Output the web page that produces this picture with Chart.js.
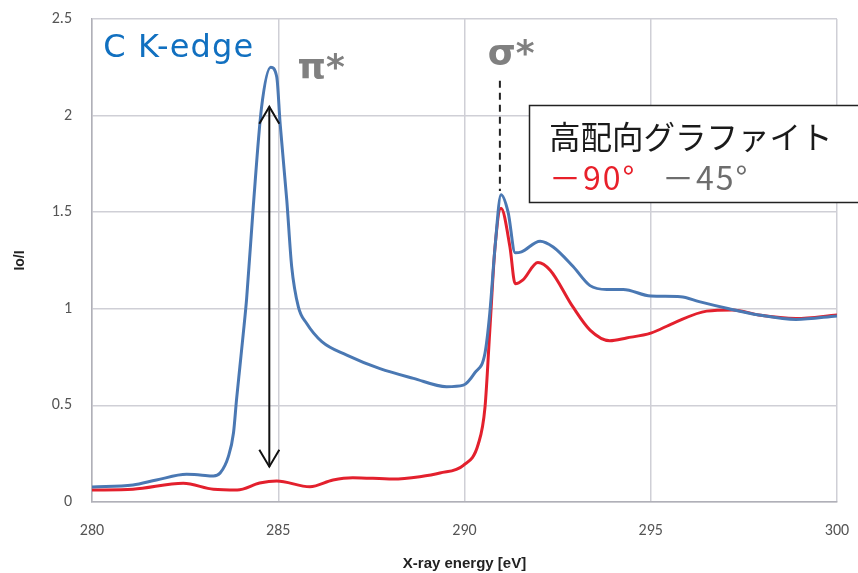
<!DOCTYPE html>
<html><head><meta charset="utf-8">
<script src="https://cdn.jsdelivr.net/npm/chart.js@4/dist/chart.umd.min.js"></script>
<style>html,body{margin:0;padding:0;background:#fff}#wrap{width:858px;height:573px}</style>
</head><body><div id="wrap"><canvas id="c" width="858" height="573"></canvas></div>
<script>
const xTicks = [280, 285, 290, 295, 300];
const yTicks = [0, 0.5, 1, 1.5, 2, 2.5];

const energy45 = [280, 281.1, 281.73, 282.54, 282.9, 283.26, 283.44, 283.66, 283.8, 283.88, 283.97, 284.06, 284.15, 284.33, 284.55, 284.8, 284.96, 285.05, 285.23, 285.36, 285.54, 285.76, 286.17, 286.84, 287.73, 288.63, 289.52, 289.97, 290.28, 290.55, 290.68, 290.82, 290.98, 291.17, 291.36, 291.53, 292.03, 292.38, 292.91, 293.37, 293.82, 294.26, 295.0, 295.8, 296.3, 297.1, 297.9, 298.9, 300];
const io45 = [0.078, 0.088, 0.114, 0.143, 0.14, 0.135, 0.15, 0.235, 0.36, 0.53, 0.70, 0.87, 1.05, 1.53, 2.04, 2.25, 2.2, 1.96, 1.56, 1.22, 1.01, 0.925, 0.83, 0.76, 0.69, 0.64, 0.597, 0.605, 0.67, 0.77, 0.98, 1.32, 1.59, 1.50, 1.29, 1.295, 1.35, 1.32, 1.22, 1.12, 1.10, 1.10, 1.066, 1.063, 1.037, 1.0, 0.968, 0.945, 0.963];

const energy90 = [280, 281.1, 282.45, 283.26, 283.9, 284.5, 284.96, 285.85, 286.47, 287.0, 288.08, 288.8, 289.34, 289.97, 290.37, 290.55, 290.68, 290.82, 290.98, 291.22, 291.36, 291.57, 291.97, 292.3, 292.91, 293.37, 293.9, 294.35, 295.0, 295.6, 296.5, 297.2, 297.9, 298.9, 300];
const io90 = [0.062, 0.066, 0.097, 0.066, 0.062, 0.098, 0.109, 0.079, 0.114, 0.126, 0.119, 0.131, 0.15, 0.19, 0.30, 0.49, 0.89, 1.32, 1.52, 1.32, 1.13, 1.15, 1.24, 1.20, 1.01, 0.89, 0.835, 0.849, 0.874, 0.925, 0.988, 0.994, 0.968, 0.95, 0.968];

const legendTitle = "高配向グラファイト";
const label90 = "－90°";
const label45 = "－45°";

const toPts = (xs, ys) => xs.map((x, i) => ({x: x, y: ys[i]}));

const annot = {
  id: 'annot',
  afterDatasetsDraw(chart) {
    const ctx = chart.ctx, xs = chart.scales.x, ys = chart.scales.y;
    ctx.save();
    // C K-edge
    ctx.fillStyle = '#1170c0';
    ctx.font = '32px "DejaVu Sans", sans-serif';
    ctx.letterSpacing = '1.2px';
    ctx.textBaseline = 'alphabetic'; ctx.textAlign = 'left';
    ctx.fillText('C K-edge', xs.getPixelForValue(280.3), ys.getPixelForValue(2.302));
    ctx.letterSpacing = '0px';
    // pi*, sigma*
    ctx.fillStyle = '#808080';
    ctx.font = 'bold 36px "DejaVu Sans", sans-serif';
    ctx.textAlign = 'center'; ctx.textBaseline = 'middle';
    ctx.fillText('π*', xs.getPixelForValue(286.15), ys.getPixelForValue(2.24));
    ctx.fillText('σ*', xs.getPixelForValue(291.25), ys.getPixelForValue(2.31));
    // dashed line
    ctx.strokeStyle = '#222'; ctx.lineWidth = 2; ctx.setLineDash([7, 5]);
    const dx = xs.getPixelForValue(290.95);
    ctx.beginPath(); ctx.moveTo(dx, ys.getPixelForValue(2.18)); ctx.lineTo(dx, ys.getPixelForValue(1.61)); ctx.stroke();
    ctx.setLineDash([]);
    // double arrow
    const ax = xs.getPixelForValue(284.76);
    const y1 = ys.getPixelForValue(2.046), y2 = ys.getPixelForValue(0.183);
    ctx.strokeStyle = '#111'; ctx.lineWidth = 2;
    ctx.beginPath(); ctx.moveTo(ax, y1); ctx.lineTo(ax, y2); ctx.stroke();
    ctx.beginPath();
    ctx.moveTo(ax - 10, y1 + 17); ctx.lineTo(ax, y1); ctx.lineTo(ax + 10, y1 + 17);
    ctx.moveTo(ax - 10, y2 - 17); ctx.lineTo(ax, y2); ctx.lineTo(ax + 10, y2 - 17);
    ctx.stroke();
    // legend box
    ctx.fillStyle = '#fff';
    ctx.fillRect(529.5, 105.5, 340, 97);
    ctx.strokeStyle = '#222'; ctx.lineWidth = 1.5;
    ctx.strokeRect(529.5, 105.5, 340, 97);
    ctx.textAlign = 'left'; ctx.textBaseline = 'middle';
    ctx.font = '31.5px "Noto Sans CJK JP", sans-serif';
    ctx.fillStyle = '#1a1a1a';
    ctx.fillText(legendTitle, 549, 137);
    ctx.font = '32px "Noto Sans CJK JP", sans-serif';
    ctx.letterSpacing = '2px';
    ctx.fillStyle = '#e8202a';
    ctx.fillText(label90, 549, 178);
    ctx.fillStyle = '#6d6d6d';
    ctx.fillText(label45, 662, 178);
    ctx.restore();
  }
};

new Chart(document.getElementById('c'), {
  type: 'scatter',
  data: {
    datasets: [
      {label: label45, data: toPts(energy45, io45), showLine: true, borderColor: '#4a78b3', borderWidth: 3, pointRadius: 0, cubicInterpolationMode: 'monotone'},
      {label: label90, data: toPts(energy90, io90), showLine: true, borderColor: '#e3202d', borderWidth: 3, pointRadius: 0, cubicInterpolationMode: 'monotone'}
    ]
  },
  options: {
    responsive: false, animation: false,
    layout: {padding: {left: 0, top: 19, right: 21, bottom: 0}, autoPadding: false},
    plugins: {legend: {display: false}, tooltip: {enabled: false}},
    scales: {
      x: {
        type: 'linear', min: 280, max: 300,
        afterBuildTicks: s => { s.ticks = xTicks.map(v => ({value: v})); },
        afterFit: s => { s.height = 71; s.paddingLeft = 0; s.paddingRight = 0; },
        grid: {color: '#cfcfd6', lineWidth: 1.5, drawTicks: false},
        border: {color: '#b0b0b8', width: 1.5},
        ticks: {color: '#555', font: {family: 'Carlito, "Liberation Sans", sans-serif', size: 16}, padding: 19, callback: v => String(v)},
        title: {display: true, text: 'X-ray energy [eV]', color: '#222', font: {family: '"Liberation Sans", sans-serif', size: 15, weight: 'bold'}, padding: {top: 2, bottom: 0}}
      },
      y: {
        min: 0, max: 2.5,
        afterBuildTicks: s => { s.ticks = yTicks.map(v => ({value: v})); },
        afterFit: s => { s.width = 92; s.paddingTop = 0; s.paddingBottom = 0; },
        grid: {color: '#cfcfd6', lineWidth: 1.5, drawTicks: false},
        border: {color: '#b0b0b8', width: 1.5},
        ticks: {color: '#555', font: {family: 'Carlito, "Liberation Sans", sans-serif', size: 16}, padding: 20, callback: v => String(v)},
        title: {display: true, text: 'Io/I', color: '#222', font: {family: '"Liberation Sans", sans-serif', size: 14, weight: 'bold'}, padding: {top: 12, bottom: 0}}
      }
    }
  },
  plugins: [annot]
});
</script></body></html>
